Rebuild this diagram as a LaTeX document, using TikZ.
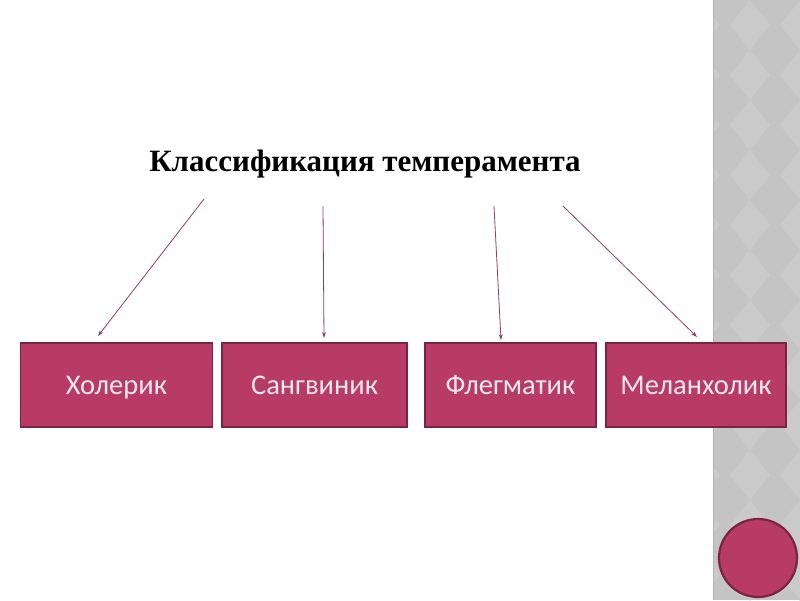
\documentclass[tikz,border=0pt]{standalone}
\usepackage{fontspec}
\setmainfont{Liberation Serif}
\newfontfamily\boxfont{Carlito}
\definecolor{boxfill}{HTML}{B83B66}
\definecolor{boxedge}{HTML}{7A2342}
\definecolor{boxtext}{HTML}{F7E8EF}
\definecolor{arrowc}{HTML}{8E3F5C}
\definecolor{stripc}{HTML}{C4C4C4}
\definecolor{diamc}{HTML}{CACACA}
\usetikzlibrary{arrows.meta}
\tikzset{
  catbox/.style={draw=boxedge, line width=1.8pt, fill=boxfill, text=boxtext,
    font=\boxfont\fontsize{28.5}{32}\selectfont, minimum height=84pt, inner sep=0pt,
    text height=18.4pt, text depth=0pt},
  link/.style={draw=arrowc, line width=0.8pt, -{Stealth[length=6pt,width=4pt]}}
}
\begin{document}
\begin{tikzpicture}[x=1pt,y=-1pt]
\useasboundingbox (0,0) rectangle (800,600);
\fill[white] (0,0) rectangle (800,600);
% right strip
\fill[stripc] (713,0) rectangle (800,600);
\begin{scope}
\clip (714,0) rectangle (800,600);
\foreach \i in {0,...,12} {
  \foreach \j in {0,...,3} {
    \fill[diamc] ({700+\j*50},{\i*50}) -- ({720+\j*50},{\i*50+25}) -- ({700+\j*50},{\i*50+50}) -- ({680+\j*50},{\i*50+25}) -- cycle;
  }
}
\end{scope}
\draw[color=gray!60, line width=1pt] (713.5,0) -- (713.5,600);
% circle
\node[circle, draw=boxedge, line width=2.2pt, fill=boxfill, minimum size=78pt, inner sep=0pt] (dot) at (758,558) {};
% title
\node[font=\bfseries\fontsize{31}{36}\selectfont] (title) at (365,164) {Классификация темперамента};
% boxes
\node[catbox, minimum width=192pt] (b1) at (116.5,385) {Холерик};
\node[catbox, minimum width=185pt] (b2) at (314.5,385) {Сангвиник};
\node[catbox, minimum width=171pt] (b3) at (510.5,385) {Флегматик};
\node[catbox, minimum width=180pt] (b4) at (696,385) {Меланхолик};
% arrow anchors
\coordinate (s1) at (204,199);
\coordinate (s2) at (323,206);
\coordinate (s3) at (494,206);
\coordinate (s4) at (563,206);
\coordinate (e1) at (98,336);
\coordinate (e2) at (324,338);
\coordinate (e3) at (501,340);
\coordinate (e4) at (697,337);
\draw[link] (s1) -- (e1);
\draw[link] (s2) -- (e2);
\draw[link] (s3) -- (e3);
\draw[link] (s4) -- (e4);
\end{tikzpicture}
\end{document}
